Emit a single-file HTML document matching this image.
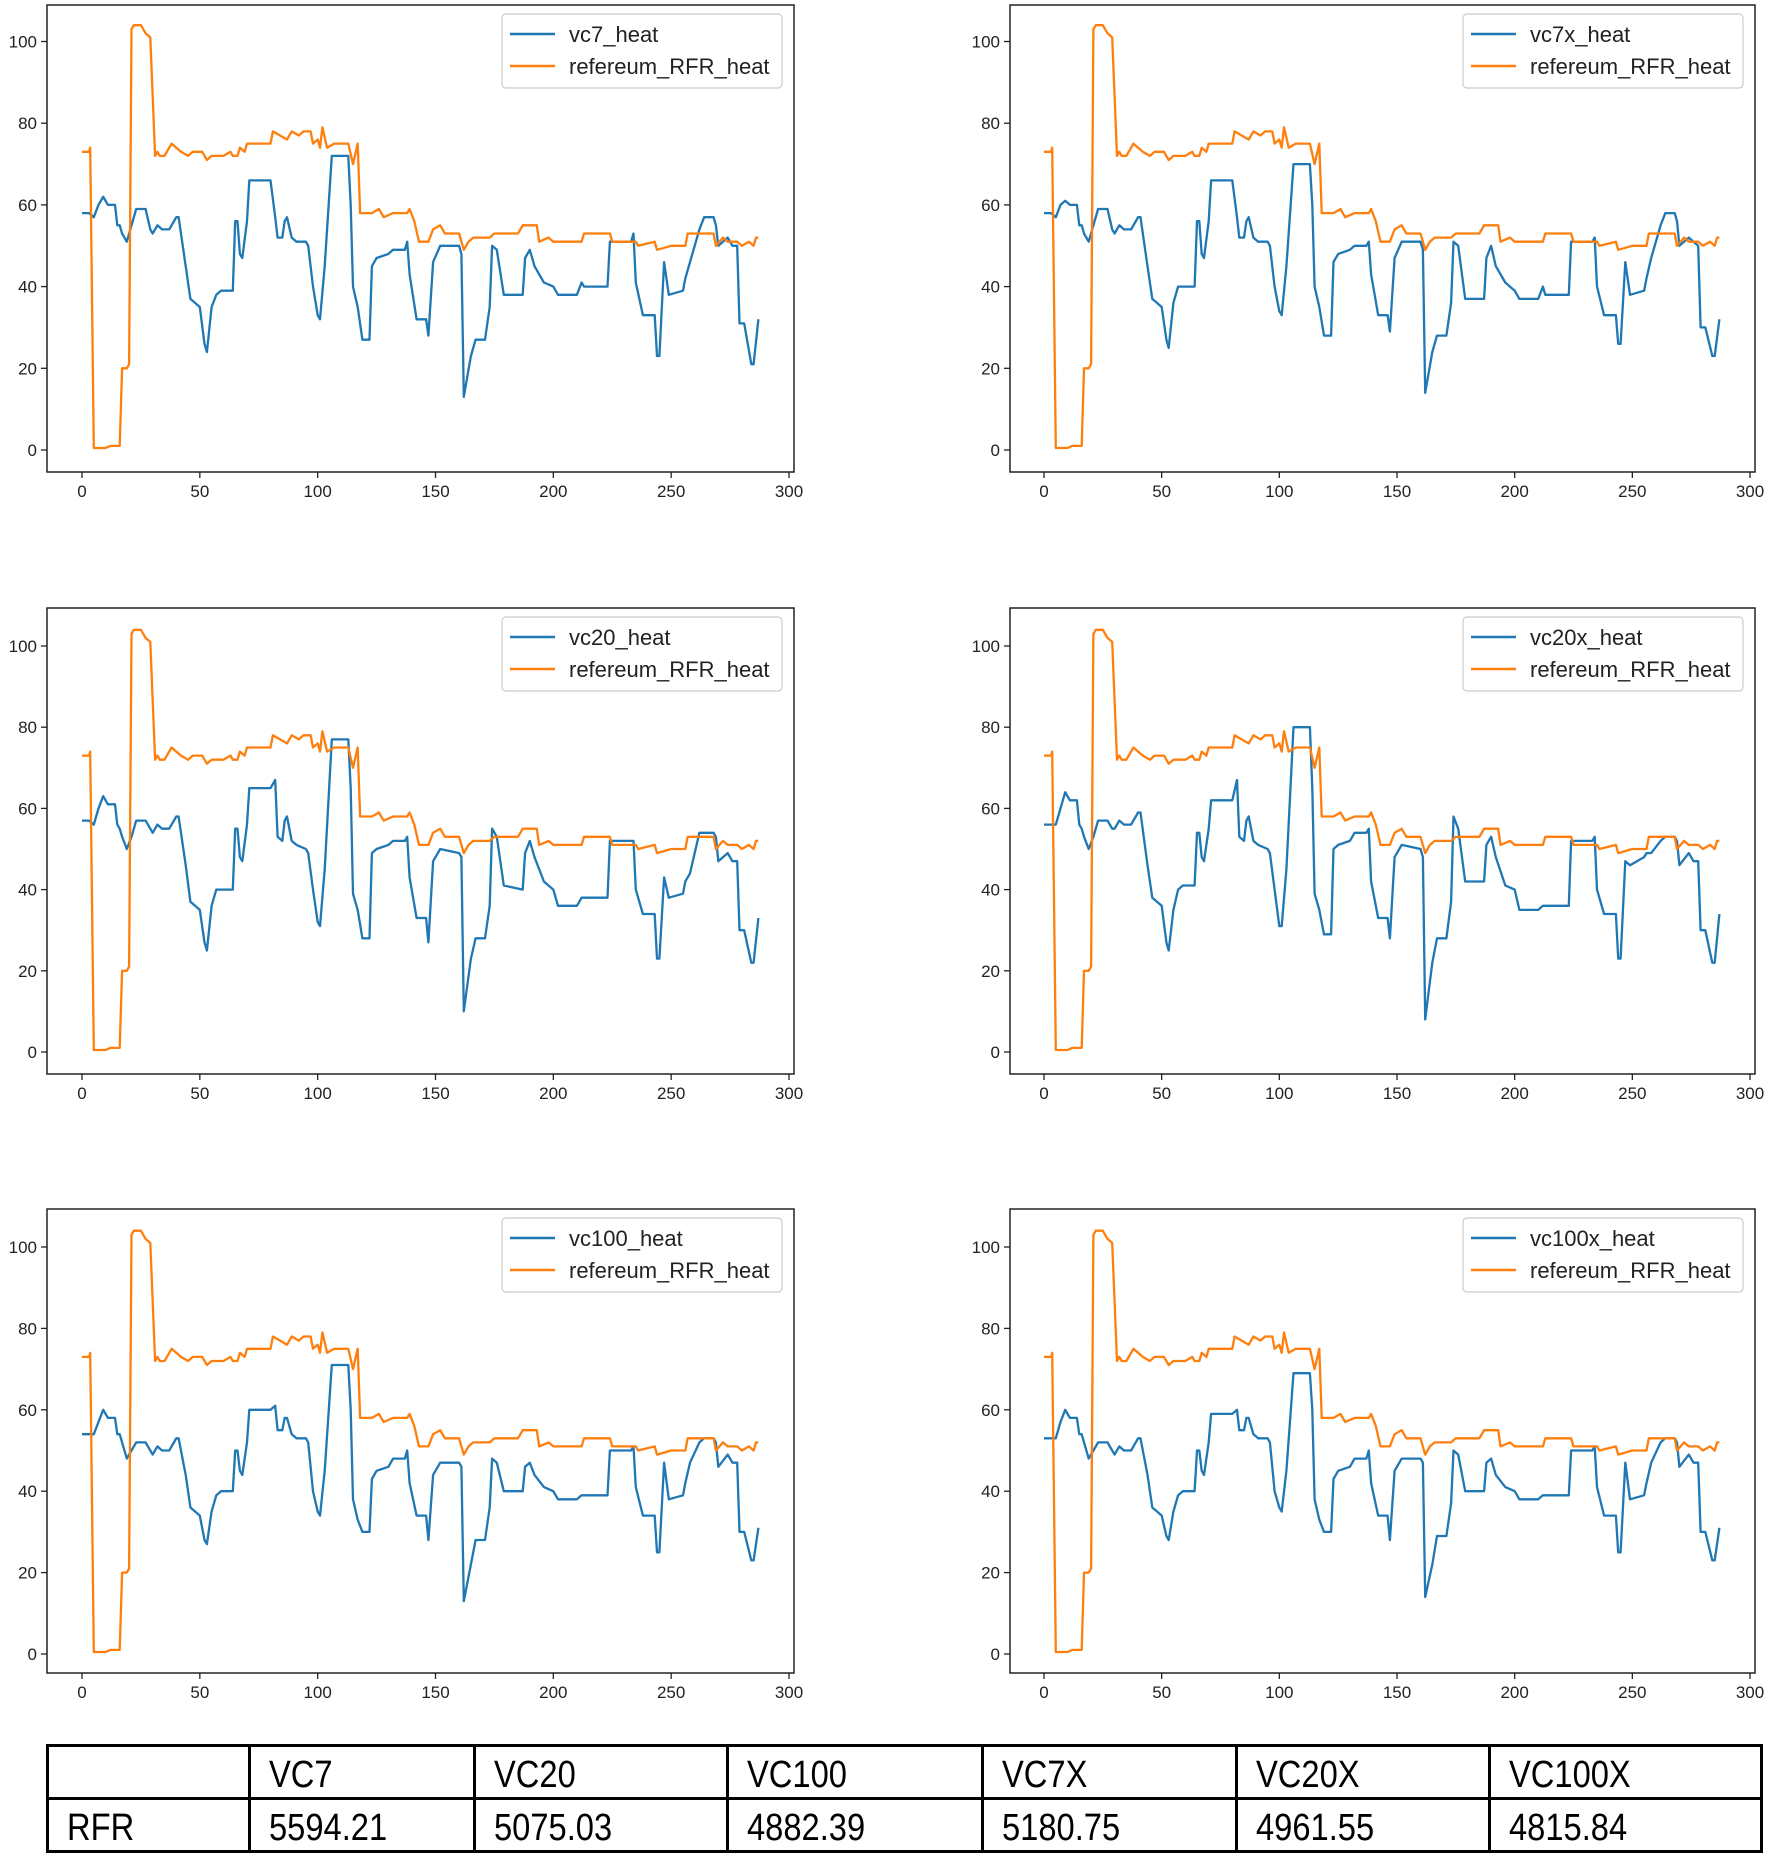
<!DOCTYPE html>
<html><head><meta charset="utf-8">
<style>
html,body{margin:0;padding:0;background:#fff;}
body{width:1772px;height:1861px;position:relative;overflow:hidden;font-family:"Liberation Sans",sans-serif;}
svg{position:absolute;left:0;top:0;}
table{position:absolute;left:46px;top:1744px;width:1717px;height:109px;border-collapse:collapse;font-family:"Liberation Sans Narrow","Liberation Sans",sans-serif;font-size:38px;}
td{border:3px solid #000;padding:6px 0 0 18px;vertical-align:middle;line-height:1;}
td span{display:inline-block;transform:scaleX(0.86);transform-origin:left center;}
</style></head><body>
<svg id="chart" width="1772" height="1740"></svg>
<table>
<colgroup><col style="width:202px"><col style="width:225px"><col style="width:253px"><col style="width:255px"><col style="width:254px"><col style="width:253px"><col></colgroup>
<tr><td></td><td><span>VC7</span></td><td><span>VC20</span></td><td><span>VC100</span></td><td><span>VC7X</span></td><td><span>VC20X</span></td><td><span>VC100X</span></td></tr>
<tr><td><span>RFR</span></td><td><span>5594.21</span></td><td><span>5075.03</span></td><td><span>4882.39</span></td><td><span>5180.75</span></td><td><span>4961.55</span></td><td><span>4815.84</span></td></tr>
</table>
<script>
const refX=[0,3,3.5,5,10,12,16,17,19,20,21,22,25,27,29,31,32,33,35,38,40,42,45,47,51,53,55,60,63,64,66,67,69,70,80,81,84,87,89,92,94,97,98,100,101,102,104,107,113,115,117,118,123,126,128,132,138,139,141,143,147,149,152,154,160,162,164,166,173,175,185,187,193,194,198,200,212,213,224,225,235,236,243,244,250,256,257,268,269,272,274,278,280,283,285,286,287];
const refY=[73,73,74,0.5,0.5,1,1,20,20,21,103,104,104,102,101,72,73,72,72,75,74,73,72,73,73,71,72,72,73,72,72,74,73,75,75,78,77,76,78,77,78,78,75,76,74,79,74,75,75,70,75,58,58,59,57,58,58,59,56,51,51,54,55,53,53,49,51,52,52,53,53,55,55,51,52,51,51,53,53,51,51,50,51,49,50,50,53,53,50,52,51,51,50,51,50,52,52];
const blueX=[0,3,5,7,9,11,14,15,16,17,19,21,23,27,29,30,32,34,37,40,
41,44,46,48,50,52,53,55,57,59,64,65,66,67,68,70,71,80,82,83,
85,86,87,89,91,95,96,98,100,101,103,106,113,114,115,117,119,122,123,125,
130,132,137,138,139,142,146,147,149,152,160,161,162,165,167,171,173,174,176,179,
187,188,190,192,196,200,202,210,212,213,223,224,233,234,235,238,243,244,245,247,
249,255,256,258,262,264,268,269,270,274,276,278,279,281,284,285,287];
const vc7=[58,58,57,60,62,60,60,55,55,53,51,55,59,59,54,53,55,54,54,57,
57,45,37,36,35,26,24,35,38,39,39,56,56,48,47,56,66,66,57,52,
52,56,57,52,51,51,50,40,33,32,45,72,72,60,40,35,27,27,45,47,
48,49,49,51,43,32,32,28,46,50,50,48,13,23,27,27,35,50,49,38,
38,47,49,45,41,40,38,38,41,40,40,51,51,53,41,33,33,23,23,46,
38,39,42,46,54,57,57,55,50,52,50,50,31,31,21,21,32];
const vc7x=[58,58,57,60,61,60,60,55,55,53,51,55,59,59,54,53,55,54,54,57,
57,45,37,36,35,27,25,36,40,40,40,56,56,48,47,56,66,66,57,52,
52,56,57,52,51,51,50,40,34,33,45,70,70,60,40,35,28,28,46,48,
49,50,50,51,43,33,33,29,47,51,51,49,14,24,28,28,36,51,50,37,
37,47,50,45,41,39,37,37,40,38,38,51,51,52,40,33,33,26,26,46,
38,39,42,47,55,58,58,56,50,52,51,50,30,30,23,23,32];
const vc20=[57,57,56,60,63,61,61,56,55,53,50,53,57,57,55,54,56,55,55,58,
58,46,37,36,35,27,25,36,40,40,40,55,55,48,47,56,65,65,67,53,
52,57,58,52,51,50,49,40,32,31,45,77,77,65,39,35,28,28,49,50,
51,52,52,53,43,33,33,27,47,50,49,48,10,23,28,28,36,55,53,41,
40,49,52,48,42,40,36,36,38,38,38,52,52,52,40,34,34,23,23,43,
38,39,42,44,54,54,54,53,47,49,47,47,30,30,22,22,33];
const vc20x=[56,56,56,60,64,62,62,56,55,53,50,53,57,57,55,55,57,56,56,59,
59,46,38,37,36,27,25,35,40,41,41,54,54,48,47,55,62,62,67,53,
52,57,58,52,51,50,49,40,31,31,45,80,80,65,39,35,29,29,50,51,
52,54,54,55,42,33,33,28,48,51,50,48,8,22,28,28,37,58,55,42,
42,51,53,48,41,40,35,35,36,36,36,52,52,53,40,34,34,23,23,47,
46,48,49,49,52,53,53,52,46,49,47,47,30,30,22,22,34];
const vc100=[54,54,54,57,60,58,58,54,54,52,48,50,52,52,50,49,51,50,50,53,
53,44,36,35,34,28,27,35,39,40,40,50,50,45,44,52,60,60,61,55,
55,58,58,54,53,53,52,40,35,34,45,71,71,60,38,33,30,30,43,45,
46,48,48,50,42,34,34,28,44,47,47,46,13,22,28,28,36,48,47,40,
40,46,47,44,41,40,38,38,39,39,39,50,50,51,41,34,34,25,25,47,
38,39,42,47,52,53,53,52,46,49,47,47,30,30,23,23,31];
const vc100x=[53,53,53,57,60,58,58,54,54,52,48,50,52,52,50,49,51,50,50,53,
53,44,36,35,34,29,28,35,39,40,40,50,50,45,44,52,59,59,60,55,
55,58,58,54,53,53,52,40,36,35,45,69,69,60,38,33,30,30,43,45,
46,48,48,50,42,34,34,28,45,48,48,47,14,22,29,29,37,50,49,40,
40,47,48,44,41,40,38,38,39,39,39,50,50,51,41,34,34,25,25,47,
38,39,42,47,52,53,53,52,46,49,47,47,30,30,23,23,31];
const xTicks=[0,50,100,150,200,250,300];
const yTicks=[0,20,40,60,80,100];
const panelNames=["vc7_heat","vc7x_heat","vc20_heat","vc20x_heat","vc100_heat","vc100x_heat"];
const panelSeries=[vc7,vc7x,vc20,vc20x,vc100,vc100x];
const refName="refereum_RFR_heat";

const NS="http://www.w3.org/2000/svg";
const svg=document.getElementById('chart');
function mk(tag,attrs,parent){const e=document.createElementNS(NS,tag);for(const k in attrs)e.setAttribute(k,attrs[k]);(parent||svg).appendChild(e);return e;}
const cols=[{bl:47,br:794,x0:82,x300:789},{bl:1010,br:1755,x0:1044,x300:1750}];
const rows=[{bt:5,bb:472,y100:41.5,y0:450},{bt:608,bb:1074,y100:646,y0:1052},{bt:1209,bb:1673,y100:1247,y0:1654}];
for(let p=0;p<6;p++){
  const c=cols[p%2],r=rows[Math.floor(p/2)];
  const sx=v=>c.x0+(c.x300-c.x0)*v/300;
  const sy=v=>r.y0-(r.y0-r.y100)*v/100;
  const g=mk('g',{});
  
  
  const box=mk('rect',{x:c.bl,y:r.bt,width:c.br-c.bl,height:r.bb-r.bt,fill:'none',stroke:'#222','stroke-width':1.5},g);
  
  
  xTicks.forEach(t=>{
    const x=sx(t);
    mk('line',{x1:x,x2:x,y1:r.bb,y2:r.bb+6,stroke:'#222','stroke-width':1.3},g);
    const tx=mk('text',{x:x,y:r.bb+25,'text-anchor':'middle','font-size':17,fill:'#222'},g);
    tx.textContent=t;
    
    
  });
  yTicks.forEach(t=>{
    const y=sy(t);
    mk('line',{x1:c.bl-6,x2:c.bl,y1:y,y2:y,stroke:'#222','stroke-width':1.3},g);
    const tx=mk('text',{x:c.bl-10,y:y+6,'text-anchor':'end','font-size':17,fill:'#222'},g);
    tx.textContent=t;
    
    
  });
  const ys=panelSeries[p];
  let d='';blueX.forEach((x,i)=>{d+=(i?'L':'M')+sx(x).toFixed(1)+','+sy(ys[i]).toFixed(1);});
  const bl=mk('path',{d:d,fill:'none',stroke:'#1f77b4','stroke-width':2.3,'stroke-linejoin':'round'},g);
  
  
  let d2='';refX.forEach((x,i)=>{d2+=(i?'L':'M')+sx(x).toFixed(1)+','+sy(refY[i]).toFixed(1);});
  const ol=mk('path',{d:d2,fill:'none',stroke:'#ff7f0e','stroke-width':2.3,'stroke-linejoin':'round'},g);
  
  
  const lx=c.br-292,ly=r.bt+9;
  const lg=mk('g',{},g);
  
  
  mk('rect',{x:lx,y:ly,width:280,height:74,rx:4,fill:'#fff','fill-opacity':0.85,stroke:'#ccc','stroke-width':1.2},lg);
  [[panelNames[p],'#1f77b4',ly+20],[refName,'#ff7f0e',ly+52]].forEach(e=>{
    mk('line',{x1:lx+8,x2:lx+53,y1:e[2],y2:e[2],stroke:e[1],'stroke-width':2.5},lg);
    const t=mk('text',{x:lx+67,y:e[2]+8,'font-size':22,fill:'#222'},lg);
    t.textContent=e[0];
    
    
  });
}
</script>
</body></html>
